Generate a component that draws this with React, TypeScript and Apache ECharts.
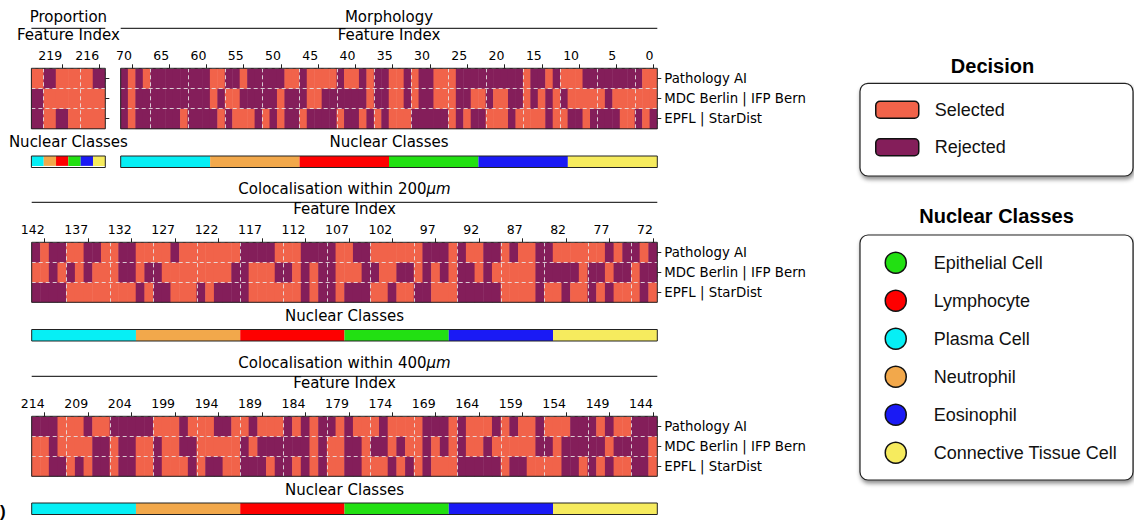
import React, { useEffect, useRef } from "react";
import * as echarts from "echarts";

// Rows of every decision panel, bottom to top
const METHODS = ["EPFL | StarDist", "MDC Berlin | IFP Bern", "Pathology AI"];

// Nuclear classes: order of the colour bars and order of the legend
const BAR_CLASSES = ["Plasma Cell", "Neutrophil", "Lymphocyte", "Epithelial Cell", "Eosinophil", "Connective Tissue Cell"];
const LEGEND_CLASSES = ["Epithelial Cell", "Lymphocyte", "Plasma Cell", "Neutrophil", "Eosinophil", "Connective Tissue Cell"];
const FEATURES_PER_CLASS = [12, 1]; // grouped panels, proportion panel

// Decisions read left to right (highest feature index first): 1 = selected, 0 = rejected
const propPathology = "101110";
const propMdc = "011111";
const propEpfl = "010111";

const morphPathology = "010100000000 110010000011 011110110100 110100111000 000000100101 110000000011";
const morphMdc = "010000000000 101100000100 011000000100 110100111001 101100101010 111110111111";
const morphEpfl = "010000001000 010111010100 100001001010 111000001010 011101111011 001000011010";

const c200Pathology = "010011001100 111101111111 000011100001 100111111000 101100101100 111111010010";
const c200Mdc = "110101011100 100111111110 011100101001 110011001010 100101111100 000100100100";
const c200Epfl = "000011111111 010011101000 011111101001 000110110011 100000111101 101101011101";

const c400Pathology = "000111011000 001110111001 101110101001 011101111000 101110101101 110001011000";
const c400Mdc = "110111100100 110110011111 010000001011 001001011010 101101111100 100000100001";
const c400Epfl = "110010100100 110111010011 000100101011 001110101011 100000100111 100101011001";

// feature range (first = leftmost), labelled ticks, decision rows (bottom to top)
const PANELS = [
  { first: 221, last: 216, tickFrom: 219, tickStep: 3, rows: [propEpfl, propMdc, propPathology], perClass: 1, rowLabels: false },
  { first: 71, last: 0, tickFrom: 70, tickStep: 5, rows: [morphEpfl, morphMdc, morphPathology], perClass: 0, rowLabels: true },
  { first: 143, last: 72, tickFrom: 142, tickStep: 5, rows: [c200Epfl, c200Mdc, c200Pathology], perClass: 0, rowLabels: true },
  { first: 215, last: 144, tickFrom: 214, tickStep: 5, rows: [c400Epfl, c400Mdc, c400Pathology], perClass: 0, rowLabels: true },
];

// layout of the panels, in pixels
const LAYOUT = [
  { left: 31.4, top: 68.3, width: 73.9, height: 60.5, barTop: 156 },
  { left: 120.7, top: 68.3, width: 536.6, height: 60.5, barTop: 156 },
  { left: 31.7, top: 242.3, width: 625.6, height: 60, barTop: 329.5 },
  { left: 31.7, top: 416.3, width: 625.6, height: 60, barTop: 503 },
];

const SELECTED = "#F1634A";
const REJECTED = "#841E5A";
const CLASS_COLORS: Record<string, string> = {
  "Plasma Cell": "#06EFF5",
  Neutrophil: "#F2A84B",
  Lymphocyte: "#FE0000",
  "Epithelial Cell": "#22E012",
  Eosinophil: "#1A1AF5",
  "Connective Tissue Cell": "#F6EB5E",
};

const FONT = "DejaVu Sans";
const LEGEND_FONT = "Liberation Sans";

const mod = (a: number, n: number) => ((a % n) + n) % n;

function buildOption() {
  const grid: any[] = [];
  const xAxis: any[] = [];
  const yAxis: any[] = [];
  const series: any[] = [];
  const heatmapIdx: number[] = [];

  PANELS.forEach((p, i) => {
    const L = LAYOUT[i];
    const feats: number[] = [];
    for (let f = p.first; f >= p.last; f--) feats.push(f);
    const isTick = (idx: number) => mod(p.tickFrom - feats[idx], p.tickStep) === 0;
    const isGrid = (idx: number) => mod(p.tickFrom - Math.ceil(p.tickStep / 2) - feats[idx], p.tickStep) === 0;
    const g = i * 2;

    grid.push({
      left: L.left, top: L.top, width: L.width, height: L.height,
      show: true, z: 10, backgroundColor: "transparent", borderColor: "#222", borderWidth: 1,
    });
    xAxis.push({
      type: "category", gridIndex: g, position: "top", data: feats.map(String), z: 5,
      axisLine: { show: false },
      axisTick: { show: true, alignWithLabel: true, interval: isTick, length: 4, lineStyle: { color: "#222" } },
      axisLabel: { interval: isTick, align: "right", margin: 6, fontSize: 12.5, fontFamily: FONT, color: "#000" },
      splitLine: { show: true, interval: isGrid, lineStyle: { color: "rgba(232,232,232,0.85)", type: [4, 3], width: 1 } },
    });
    yAxis.push({
      type: "category", gridIndex: g, position: "right", data: METHODS, z: 5,
      axisLine: { show: false },
      axisTick: { show: true, alignWithLabel: true, length: 4, lineStyle: { color: "#222" } },
      axisLabel: { show: p.rowLabels, margin: 7, fontSize: 13.3, fontFamily: FONT, color: "#000" },
      splitLine: { show: true, interval: (idx: number) => idx > 0, lineStyle: { color: "rgba(232,232,232,0.85)", type: [4, 3], width: 1 } },
    });

    const cells: number[][] = [];
    p.rows.forEach((row, r) => {
      row.replace(/\s/g, "").split("").forEach((v, c) => cells.push([c, r, Number(v)]));
    });
    heatmapIdx.push(series.length);
    series.push({
      type: "heatmap", name: "Decision " + i, xAxisIndex: g, yAxisIndex: g, data: cells,
      emphasis: { disabled: true }, silent: true,
    });

    // nuclear classes colour bar
    const b = g + 1;
    const perClass = p.perClass ? FEATURES_PER_CLASS[1] : FEATURES_PER_CLASS[0];
    grid.push({
      left: L.left, top: L.barTop, width: L.width, height: 11.5,
      show: true, z: 10, backgroundColor: "transparent", borderColor: "#222", borderWidth: 1,
    });
    xAxis.push({ type: "value", gridIndex: b, min: 0, max: perClass * BAR_CLASSES.length, show: false });
    yAxis.push({ type: "category", gridIndex: b, data: [""], show: false });
    BAR_CLASSES.forEach((c) => {
      series.push({
        type: "bar", name: c, xAxisIndex: b, yAxisIndex: b, stack: "nc" + i, barWidth: "100%",
        data: [perClass], itemStyle: { color: CLASS_COLORS[c] }, silent: true,
      });
    });
  });

  // two empty series that carry the decision legend
  ["Selected", "Rejected"].forEach((name) => {
    series.push({
      type: "bar", name, xAxisIndex: 1, yAxisIndex: 1, data: [],
      itemStyle: { color: name === "Selected" ? SELECTED : REJECTED },
    });
  });

  const txt = (text: string, x: number, y: number, size = 15, extra: any = {}) => ({
    type: "text", x, y, silent: true,
    style: {
      text, fontSize: size, fontFamily: FONT, fill: "#000",
      align: "center", verticalAlign: "middle", textAlign: "center", textVerticalAlign: "middle", ...extra,
    },
  });
  const hline = (x1: number, x2: number, y: number) => ({
    type: "line", silent: true, shape: { x1, y1: y, x2, y2: y }, style: { stroke: "#000", lineWidth: 1 },
  });
  const coloc = (d: string, y: number) => ({
    type: "text", x: 344.5, y, silent: true,
    style: {
      text: `{a|Colocalisation within ${d}}{b|μm}`,
      rich: {
        a: { fontSize: 15, fontFamily: FONT, fill: "#000" },
        b: { fontSize: 15, fontFamily: FONT, fontStyle: "italic", fill: "#000" },
      },
      align: "center", verticalAlign: "middle", textAlign: "center", textVerticalAlign: "middle",
    },
  });
  const box = (y: number, h: number) => ({
    type: "rect", silent: true, z: -1,
    shape: { x: 860, y, width: 273, height: h, r: 8 },
    style: {
      fill: "#fff", stroke: "#222", lineWidth: 1.2,
      shadowBlur: 4, shadowOffsetX: 1, shadowOffsetY: 3, shadowColor: "rgba(0,0,0,0.45)",
    },
  });

  const graphic = [
    txt("Proportion", 68.4, 17),
    txt("Morphology", 389, 17),
    hline(31.4, 105.3, 28.3),
    hline(120.7, 657.3, 28.3),
    txt("Feature Index", 68.4, 35),
    txt("Feature Index", 389, 35),
    txt("Nuclear Classes", 68.4, 142),
    txt("Nuclear Classes", 389, 142),
    coloc("200", 189),
    hline(31.7, 657.3, 202.3),
    txt("Feature Index", 344.5, 209),
    txt("Nuclear Classes", 344.5, 316),
    coloc("400", 363),
    hline(31.7, 657.3, 376.3),
    txt("Feature Index", 344.5, 383),
    txt("Nuclear Classes", 344.5, 490),
    box(83.3, 92.7),
    box(235, 245),
    txt("Decision", 992.5, 66, 20, { fontFamily: LEGEND_FONT, fontWeight: "bold" }),
    txt("Nuclear Classes", 996.5, 216, 20, { fontFamily: LEGEND_FONT, fontWeight: "bold" }),
    // panel letter, only its closing bracket lies inside the figure
    txt(")", 0, 511, 17, { fontFamily: LEGEND_FONT, fontWeight: "bold", align: "left", textAlign: "left" }),
  ];

  const legend = [
    {
      data: ["Selected", "Rejected"], orient: "vertical", left: 875, top: 100.5, padding: 0,
      itemWidth: 43, itemHeight: 17, itemGap: 19, icon: "roundRect", selectedMode: false, z: 20,
      itemStyle: { borderColor: "#111", borderWidth: 1.5 },
      textStyle: { fontSize: 18, fontFamily: LEGEND_FONT, color: "#111", padding: [0, 0, 0, 11] },
    },
    {
      data: LEGEND_CLASSES, orient: "vertical", left: 884.5, top: 251.5, padding: 0,
      itemWidth: 21, itemHeight: 21, itemGap: 15.5, icon: "circle", selectedMode: false, z: 20,
      itemStyle: { borderColor: "#111", borderWidth: 1.5 },
      textStyle: { fontSize: 18, fontFamily: LEGEND_FONT, color: "#111", padding: [0, 0, 0, 22.5] },
    },
  ];

  const visualMap = {
    type: "piecewise", show: false, seriesIndex: heatmapIdx, dimension: 2,
    pieces: [
      { value: 1, color: SELECTED },
      { value: 0, color: REJECTED },
    ],
  };

  return { animation: false, backgroundColor: "#fff", grid, xAxis, yAxis, series, graphic, legend, visualMap };
}

const App = () => {
  const chartRef = useRef<HTMLDivElement>(null);

  useEffect(() => {
    document.body.style.margin = "0";
    if (!chartRef.current) return;
    const chart = echarts.init(chartRef.current, null, { renderer: "svg" });
    chart.setOption(buildOption());
    return () => chart.dispose();
  }, []);

  return <div ref={chartRef} style={{ width: "1134px", height: "528px" }} />;
};

export default App;
